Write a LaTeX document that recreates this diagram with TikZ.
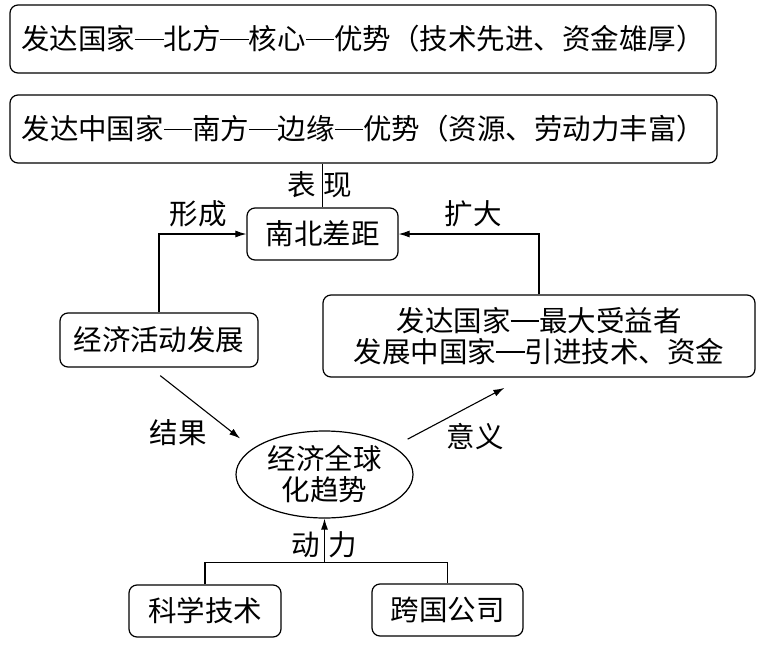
\documentclass[tikz,border=0pt]{standalone}
\usepackage{fontspec}
\newfontfamily\cjkfont{Noto Sans CJK SC}
\usetikzlibrary{arrows.meta,shapes.geometric}
\newcommand\jdash{\rule[0.33em]{1em}{0.06em}}
\tikzset{>={Latex[length=11pt,width=7pt]}}
\tikzstyle{mybox}=[draw,line width=1.2pt,rounded corners=8pt,inner sep=0pt,align=center]
\tikzstyle{myoval}=[draw,line width=1.2pt,ellipse,inner sep=0pt,align=center]
\tikzstyle{mylink}=[line width=1.1pt]

\begin{document}
\begin{tikzpicture}[x=1pt,y=-1pt,font=\cjkfont\fontsize{28.5}{31}\selectfont]
  \useasboundingbox (0,0) rectangle (761,651);

  % BOXES
  \node[mybox,minimum width=706pt,minimum height=68pt] (north) at (363,39)
    {发达国家\jdash 北方\jdash 核心\jdash 优势（技术先进、资金雄厚）};
  \node[mybox,minimum width=707pt,minimum height=68pt] (south) at (363.5,129)
    {发达中国家\jdash 南方\jdash 边缘\jdash 优势（资源、劳动力丰富）};
  \node[mybox,minimum width=151pt,minimum height=52pt] (gap) at (322.5,234) {南北差距};
  \node[mybox,minimum width=198pt,minimum height=54pt] (econ) at (159,340) {经济活动发展};
  \node[mybox,minimum width=432pt,minimum height=82pt] (gain) at (539,336)
    {发达国家\jdash 最大受益者\\发展中国家\jdash 引进技术、资金};
  \node[myoval,minimum width=177pt,minimum height=87pt] (glob) at (324.5,474.5)
    {经济全球\\化趋势};
  \node[mybox,minimum width=152pt,minimum height=52pt] (sci) at (205,611) {科学技术};
  \node[mybox,minimum width=151pt,minimum height=52pt] (tnc) at (447.5,610) {跨国公司};

  % LABELS
  \node (showlbl) at (320,185) {表\hspace{8pt}现};
  \node (formlbl) at (198,214) {形成};
  \node (widenlbl) at (473,214) {扩大};
  \node (resultlbl) at (178,433) {结果};
  \node (meanlbl) at (475,437) {意义};
  \node (forcelbl) at (324,545) {动\hspace{9pt}力};

  % LINKS
  \draw[mylink] (south.south -| gap.north) -- (gap.north);
  \draw[mylink,->] (econ.north) |- (gap.west);
  \draw[mylink,->] (gain.north) |- (gap.east);
  \draw[mylink,->,shorten <=13pt,shorten >=16pt] (econ.-108) -- (glob.160);
  \draw[mylink,->,shorten <=16pt,shorten >=22pt] (glob.22) -- (gain.250);
  \coordinate (fork) at ([yshift=22pt]glob.south |- sci.north);
  \draw[mylink] (sci.north) |- (fork) -| (tnc.north);
  \draw[mylink,->] (fork) -- (glob.south);

\end{tikzpicture}
\end{document}
